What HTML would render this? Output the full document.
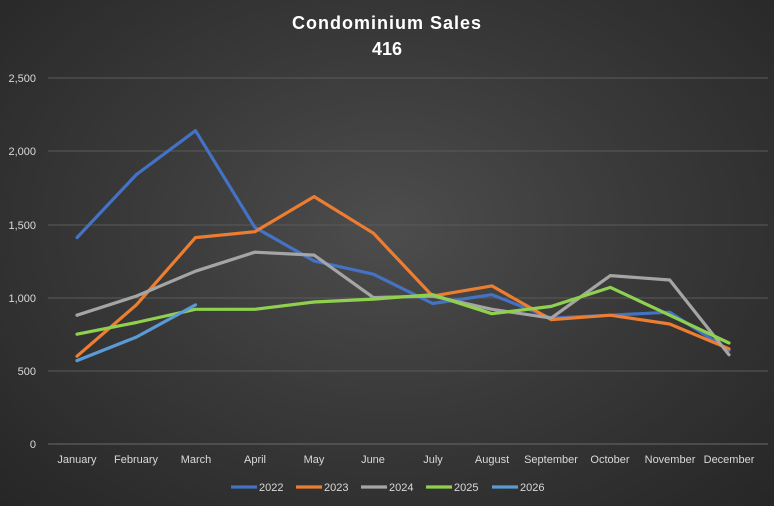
<!DOCTYPE html>
<html><head><meta charset="utf-8"><style>
html,body{margin:0;padding:0;}
body{width:774px;height:506px;overflow:hidden;background:radial-gradient(ellipse at 50% 45%,#4d4d4d 0%,#3a3a3a 45%,#262626 100%);font-family:"Liberation Sans",sans-serif;}
svg{position:absolute;left:0;top:0;}
</style></head><body>
<svg width="774" height="506" xmlns="http://www.w3.org/2000/svg">
<g stroke="#5a5a5a" stroke-width="1">
<line x1="48" x2="768" y1="78" y2="78"/><line x1="48" x2="768" y1="151" y2="151"/>
<line x1="48" x2="768" y1="225" y2="225"/><line x1="48" x2="768" y1="298" y2="298"/>
<line x1="48" x2="768" y1="371" y2="371"/><line x1="48" x2="768" y1="444" y2="444" stroke="#6a6a6a"/>
</g>
<text x="387" y="29" fill="#fff" font-size="18" font-weight="bold" text-anchor="middle" letter-spacing="1">Condominium  Sales</text>
<text x="387" y="55" fill="#fff" font-size="18" font-weight="bold" text-anchor="middle">416</text>
<g fill="#d9d9d9" font-size="11" text-anchor="end">
<text x="36" y="82">2,500</text><text x="36" y="155">2,000</text><text x="36" y="229">1,500</text>
<text x="36" y="302">1,000</text><text x="36" y="375">500</text><text x="36" y="448">0</text>
</g>
<g fill="#d9d9d9" font-size="11" text-anchor="middle">
<text x="77" y="463">January</text><text x="136" y="463">February</text><text x="196" y="463">March</text>
<text x="255" y="463">April</text><text x="314" y="463">May</text><text x="373" y="463">June</text>
<text x="433" y="463">July</text><text x="492" y="463">August</text><text x="551" y="463">September</text>
<text x="610" y="463">October</text><text x="670" y="463">November</text><text x="729" y="463">December</text>
</g>
<g id="lines" fill="none" stroke-width="3.2" stroke-linejoin="round" stroke-linecap="round"></g>
<g font-size="11" fill="#d9d9d9">
<line x1="231" x2="257" y1="487" y2="487" stroke="#4472c4" stroke-width="3.2"/><text x="259" y="491">2022</text>
<line x1="296" x2="322" y1="487" y2="487" stroke="#ed7d31" stroke-width="3.2"/><text x="324" y="491">2023</text>
<line x1="361" x2="387" y1="487" y2="487" stroke="#a5a5a5" stroke-width="3.2"/><text x="389" y="491">2024</text>
<line x1="426" x2="452" y1="487" y2="487" stroke="#8fd14f" stroke-width="3.2"/><text x="454" y="491">2025</text>
<line x1="492" x2="518" y1="487" y2="487" stroke="#5b9bd5" stroke-width="3.2"/><text x="520" y="491">2026</text>
</g>
</svg>
<script>
var s=[["#4472c4",[1410,1840,2140,1480,1250,1160,960,1020,860,880,900,640]],
["#ed7d31",[600,950,1410,1450,1690,1440,1010,1080,850,880,820,650]],
["#a5a5a5",[880,1010,1180,1310,1290,1000,1010,920,860,1150,1120,610]],
["#8fd14f",[750,830,920,920,970,990,1020,890,940,1070,880,690]],
["#5b9bd5",[570,730,950]]];
var g=document.getElementById("lines"),h="";
s.forEach(function(a){var p=a[1].map(function(v,i){return (77+i*59.27).toFixed(1)+","+(444-v*0.1464).toFixed(1)}).join(" ");
h+='<polyline stroke="'+a[0]+'" points="'+p+'"/>';});
g.innerHTML=h;
</script>
</body></html>
